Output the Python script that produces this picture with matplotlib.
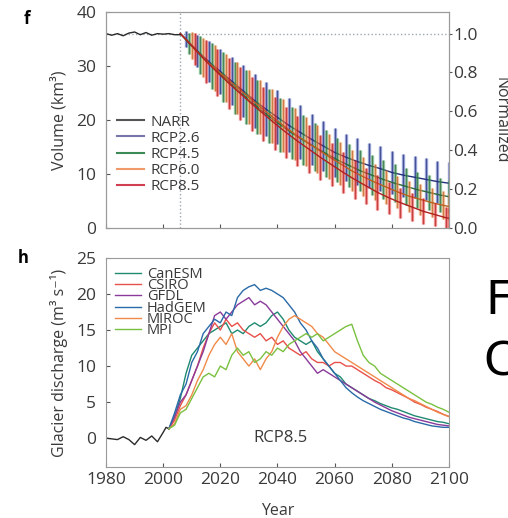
import numpy as np
import matplotlib
matplotlib.use('Agg')
import matplotlib.pyplot as plt

plt.rcParams['font.family'] = ['Open Sans', 'DejaVu Sans']

# f) glacier volume, NARR + RCP ensembles (mean and spread)
narr_years = [1980, 1982, 1984, 1986, 1988, 1990, 1992, 1994, 1996, 1998, 2000, 2002, 2004, 2006]
narr_vol = [36.0, 35.7, 36.0, 35.6, 36.1, 36.3, 35.8, 36.2, 35.7, 36.0, 35.9, 36.0, 35.8, 35.8]

y26 = [2006, 2008, 2012, 2016, 2020, 2024, 2028, 2032, 2036, 2040, 2044, 2048, 2052,
       2056, 2060, 2064, 2068, 2072, 2076, 2080, 2084, 2088, 2092, 2096, 2100]
m26 = [36, 35.0, 32.8, 30.8, 29.0, 27.2, 25.4, 23.6, 22.0, 20.5, 19.0, 17.7, 16.4,
       15.2, 14.0, 13.1, 12.3, 11.6, 11.0, 10.3, 9.8, 9.4, 9.0, 8.6, 8.3]
e26 = [0, 1.5, 3.0, 3.8, 4.2, 4.5, 4.8, 5.0, 5.0, 5.0, 5.0, 5.0, 4.8,
       4.6, 4.5, 4.4, 4.3, 4.2, 4.1, 4.0, 4.0, 3.9, 3.9, 3.9, 3.9]

y45 = [2006, 2009, 2013, 2017, 2021, 2025, 2029, 2033, 2037, 2041, 2045, 2049, 2053,
       2057, 2061, 2065, 2069, 2073, 2077, 2081, 2085, 2089, 2093, 2097, 2100]
m45 = [36, 34.2, 32.0, 30.0, 28.0, 26.0, 24.2, 22.4, 20.7, 19.1, 17.6, 16.3, 15.0,
       13.8, 12.6, 11.6, 10.6, 9.8, 9.0, 8.3, 7.7, 7.1, 6.6, 6.1, 5.8]
e45 = [0, 2.0, 3.5, 4.2, 4.6, 4.8, 5.0, 5.0, 5.0, 5.0, 4.8, 4.6, 4.5,
       4.3, 4.1, 4.0, 3.8, 3.7, 3.6, 3.5, 3.4, 3.3, 3.2, 3.2, 3.1]

y60 = [2006, 2010, 2014, 2018, 2022, 2026, 2030, 2034, 2038, 2042, 2046, 2050, 2054,
       2058, 2062, 2066, 2070, 2074, 2078, 2082, 2086, 2090, 2094, 2098, 2100]
m60 = [36, 33.8, 31.5, 29.6, 27.8, 26.0, 24.2, 22.4, 20.7, 19.0, 17.4, 16.0, 14.6,
       13.2, 11.9, 10.6, 9.5, 8.5, 7.6, 6.7, 5.9, 5.3, 4.7, 4.2, 4.0]
e60 = [0, 2.5, 3.6, 4.2, 4.5, 4.8, 5.0, 5.0, 5.0, 4.9, 4.8, 4.6, 4.4,
       4.2, 4.0, 3.8, 3.6, 3.4, 3.2, 3.0, 2.9, 2.8, 2.7, 2.6, 2.5]

y85 = [2006, 2011, 2015, 2019, 2023, 2027, 2031, 2035, 2039, 2043, 2047, 2051, 2055,
       2059, 2063, 2067, 2071, 2075, 2079, 2083, 2087, 2091, 2095, 2099, 2100]
m85 = [36, 33.2, 30.9, 28.8, 26.8, 24.9, 23.0, 21.2, 19.4, 17.7, 16.1, 14.6, 13.1,
       11.7, 10.3, 9.0, 7.8, 6.6, 5.6, 4.7, 3.9, 3.1, 2.5, 1.9, 1.8]
e85 = [0, 3.0, 4.0, 4.4, 4.7, 4.9, 5.0, 5.0, 4.9, 4.8, 4.6, 4.4, 4.2,
       4.0, 3.8, 3.6, 3.4, 3.2, 3.0, 2.8, 2.6, 2.4, 2.2, 2.0, 1.9]

# h) glacier discharge under RCP8.5 for six GCMs
hist_years = [1980, 1982, 1984, 1986, 1988, 1990, 1992, 1994, 1996, 1998, 2000, 2001, 2002]
hist_q = [0.0, -0.1, -0.2, 0.2, -0.2, -0.9, 0.1, -0.3, 0.3, -0.5, 0.8, 1.5, 1.3]

gcm_years = list(range(2002, 2101, 2))
canesm = [1.3, 3, 5.5, 9, 11.5, 12.5, 13.5, 14.5, 15, 15.5, 16, 14.5, 15, 14.5, 15.5, 16, 15.5,
          16, 17, 17.5, 16.5, 15, 14, 13.5, 13, 13.5, 12, 11, 10, 9, 8.5, 7.5, 7, 6.5, 6, 5.5,
          5.2, 4.8, 4.5, 4.2, 4, 3.7, 3.4, 3.1, 2.9, 2.7, 2.5, 2.3, 2.2, 2]
csiro = [1.3, 2.5, 4.5, 6, 8, 10, 12.5, 14.5, 16, 15, 16.5, 15.5, 16, 15, 14.5, 14, 14.5,
         13.5, 14, 13, 13.5, 12.5, 12, 11.5, 12, 11, 10.5, 10.5, 10, 10.5, 10.5, 10, 10, 9.5,
         9, 8.5, 8, 7.6, 7, 6.7, 6.3, 5.9, 5.5, 5, 4.7, 4.3, 4, 3.7, 3.3, 3]
gfdl = [1.3, 3, 5, 6, 8, 10, 12, 14.5, 17, 17.5, 16.5, 17.5, 18.5, 19, 19.5, 18.5, 19, 18.5,
        17.5, 16.5, 15.5, 14.5, 13.5, 12, 11, 10, 9, 9.5, 9, 8.5, 8, 7.5, 7, 6.5, 6, 5.5, 5,
        4.6, 4.2, 3.8, 3.5, 3.2, 2.9, 2.7, 2.5, 2.3, 2.1, 1.9, 1.8, 1.7]
hadgem = [1.3, 3.5, 6, 7.5, 10.5, 12, 14.5, 15.5, 16.5, 16, 17.5, 17, 19.5, 20.5, 21, 21.3,
          20.5, 20.8, 20.5, 20, 19.5, 18.5, 17.5, 16, 15, 13.5, 12.5, 11, 10, 9, 8, 7, 6.3, 5.7,
          5.2, 4.8, 4.4, 4, 3.7, 3.4, 3.1, 2.8, 2.6, 2.3, 2.1, 1.9, 1.7, 1.6, 1.5, 1.5]
miroc = [1.3, 2, 4, 4.5, 6, 8, 9.5, 11.5, 13, 14, 13, 14.5, 12, 11, 10, 11, 9.5, 11, 12, 14,
         15.5, 16.5, 17, 16.5, 16, 15.5, 14.5, 14, 13, 12, 11.5, 11, 10.5, 10, 9.5, 9, 8.5, 8,
         7.5, 7, 6.5, 6, 5.5, 5.2, 4.8, 4.4, 4, 3.6, 3.3, 3]
mpi = [1.3, 1.8, 3.5, 4, 5.5, 7, 8.5, 9, 8.5, 10, 9.5, 11.5, 12.5, 11.5, 12, 10.5, 11, 12,
       11.5, 12.5, 12, 13, 13.5, 14, 14.5, 14, 14.5, 13.5, 14, 14.5, 15, 15.5, 15.8, 13.5,
       11.5, 10.5, 10, 9, 8.5, 8, 7.5, 7, 6.5, 6, 5.5, 5, 4.7, 4.3, 4, 3.6]

txt = '#3a3a3a'
frame = '#9a9a9a'

fig = plt.figure(figsize=(5.08, 5.18), dpi=100)

# top panel
ax = fig.add_axes([0.2087, 0.5598, 0.675, 0.417])
ax.axvline(2006, color='#9aa8b0', ls=':', lw=1)
ax.axhline(narr_vol[0], color='#9aa8b0', ls=':', lw=1)
scen = [(y26, m26, e26, '#4a5ab8', '#22307a', 'RCP2.6'),
        (y45, m45, e45, '#3c9a55', '#2a6a3a', 'RCP4.5'),
        (y60, m60, e60, '#f09050', '#b86020', 'RCP6.0'),
        (y85, m85, e85, '#e83838', '#b02020', 'RCP8.5')]
for yy, mm, ee, c, cd, lab in scen:
    ax.errorbar(yy, mm, yerr=ee, fmt='none', ecolor=c, elinewidth=2.4, alpha=0.55)
    ax.errorbar(yy, mm, yerr=ee, fmt='none', ecolor=cd, elinewidth=0.8, alpha=0.7)
    ax.plot(yy, mm, color=cd, lw=1.0)
ax.plot(narr_years, narr_vol, color='#2a2a2a', lw=1.0)

hnd = [plt.Line2D([], [], color='#555555', lw=1.5),
       plt.Line2D([], [], color='#7676aa', lw=1.5),
       plt.Line2D([], [], color='#3c8a55', lw=1.5),
       plt.Line2D([], [], color='#f09a6a', lw=1.5),
       plt.Line2D([], [], color='#d04050', lw=1.5)]
leg = ax.legend(hnd, ['NARR', 'RCP2.6', 'RCP4.5', 'RCP6.0', 'RCP8.5'], loc='upper left',
                bbox_to_anchor=(0.0, 0.575), frameon=False, fontsize=11, handlelength=1.8,
                handletextpad=0.4, labelspacing=0.08, borderaxespad=0.3)
for t in leg.get_texts():
    t.set_color(txt)

ax.set_xlim(1980, 2100)
ax.set_ylim(0, 40)
ax.set_xticks(range(1980, 2101, 20))
ax.set_xticklabels([])
ax.set_yticks([0, 10, 20, 30, 40])
ax.set_ylabel('Volume (km³)', fontsize=11.5, color=txt, labelpad=6)
ax.tick_params(direction='in', length=3, color='#555555', labelsize=12.5, labelcolor=txt, pad=7)

ax2 = ax.twinx()
ax2.set_ylim(0, 40 / narr_vol[0])
ax2.set_yticks([0, 0.2, 0.4, 0.6, 0.8, 1.0])
ax2.set_yticklabels(['0.0', '0.2', '0.4', '0.6', '0.8', '1.0'])
ax2.tick_params(direction='out', length=2, color='#555555', labelsize=12.5, labelcolor=txt, pad=1)
ax2.set_ylabel('Normalized', fontsize=11.5, color=txt, rotation=270, labelpad=22)
for a in (ax, ax2):
    for s in a.spines.values():
        s.set_color(frame)

# bottom panel
bx = fig.add_axes([0.2087, 0.0985, 0.675, 0.4035])
bx.plot(hist_years, hist_q, color='#2a2a2a', lw=1.0)
gcms = [(canesm, '#1f8a70', 'CanESM'), (csiro, '#e8504a', 'CSIRO'),
        (gfdl, '#8a3a9a', 'GFDL'), (hadgem, '#2a6aa8', 'HadGEM'),
        (miroc, '#f08a4a', 'MIROC'), (mpi, '#7ac040', 'MPI')]
for vals, c, lab in gcms:
    bx.plot(gcm_years, vals, color=c, lw=1.0, label=lab)
leg2 = bx.legend(loc='upper left', frameon=False, fontsize=10.5, handlelength=1.8,
                 handletextpad=0.4, labelspacing=-0.25, borderaxespad=0.2)
for t in leg2.get_texts():
    t.set_color(txt)
bx.text(2041, 0, 'RCP8.5', fontsize=12, color=txt, ha='center', va='center')

bx.set_xlim(1980, 2100)
bx.set_ylim(-4, 25)
bx.set_xticks(range(1980, 2101, 20))
bx.set_yticks([0, 5, 10, 15, 20, 25])
bx.set_xlabel('Year', fontsize=11.5, color=txt, labelpad=11)
bx.set_ylabel('Glacier discharge (m³ s⁻¹)', fontsize=11.5, color=txt, labelpad=6)
bx.tick_params(axis='y', direction='in', length=3, color='#555555', labelsize=12.5, labelcolor=txt, pad=7)
bx.tick_params(axis='x', direction='in', length=3, color='#555555', labelsize=12.5, labelcolor=txt, pad=3.5)
for s in bx.spines.values():
    s.set_color(frame)

# panel letters and the cut-off slide text on the right
fig.text(27 / 508, 1 - 19 / 518, 'f', fontsize=12, fontweight='bold', ha='center', va='center')
fig.text(23 / 508, 1 - 258 / 518, 'h', fontsize=12, fontweight='bold', ha='center', va='center')
fig.text(485 / 508, 1 - 301 / 518, 'F', fontsize=34, family='DejaVu Sans', ha='left', va='center')
fig.text(483 / 508, 1 - 363 / 518, 'C', fontsize=34, family='DejaVu Sans', ha='left', va='center')

fig.savefig('out.png', dpi=100)
